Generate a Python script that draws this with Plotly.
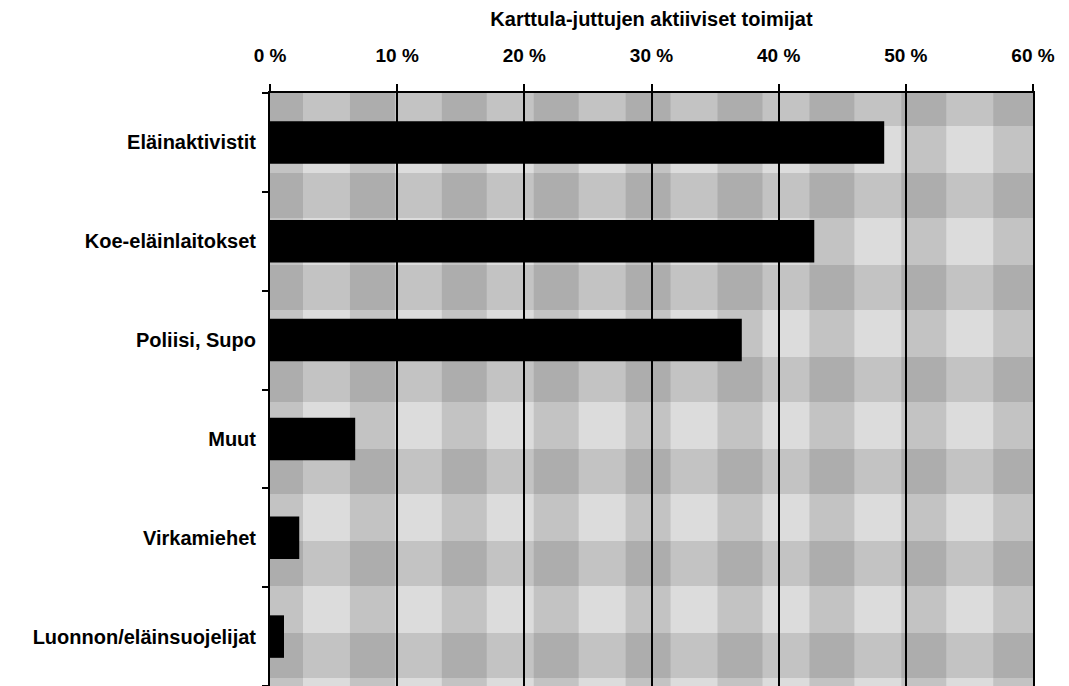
import plotly.graph_objects as go

# ---- data ----
categories = [
    "Eläinaktivistit",
    "Koe-eläinlaitokset",
    "Poliisi, Supo",
    "Muut",
    "Virkamiehet",
    "Luonnon/eläinsuojelijat",
]
values = [48.3, 42.8, 37.1, 6.7, 2.3, 1.1]
tick_values = [0, 10, 20, 30, 40, 50, 60]
tick_labels = ["0 %", "10 %", "20 %", "30 %", "40 %", "50 %", "60 %"]
title_text = "Karttula-juttujen aktiiviset toimijat"

# ---- layout geometry ----
W, H = 1069, 686
ML, MR, MT, MB = 270, 36, 93, 0
PW = W - ML - MR
PH = H - MT - MB
FONT = "Liberation Sans, Arial, Helvetica, sans-serif"

# plaid background (decorative)
band = 45.0
period_x = 91.9
period_y = 92.0
offset = -12.0
shade = "rgba(0,0,0,0.11)"
shapes = []
k = 0
while offset + k * period_x < PW:
    s = offset + k * period_x
    a, b = max(s, 0) / PW, min(s + band, PW) / PW
    if b > a:
        shapes.append(dict(type="rect", xref="x domain", yref="y domain",
                           x0=a, x1=b, y0=0, y1=1, fillcolor=shade,
                           line_width=0, layer="below"))
    k += 1
k = 0
while offset + k * period_y < PH:
    s = offset + k * period_y
    top, bot = max(s, 0) / PH, min(s + band, PH) / PH
    if bot > top:
        shapes.append(dict(type="rect", xref="x domain", yref="y domain",
                           x0=0, x1=1, y0=1 - bot, y1=1 - top, fillcolor=shade,
                           line_width=0, layer="below"))
    k += 1

fig = go.Figure(go.Bar(
    x=values, y=categories, orientation="h",
    marker=dict(color="black", line=dict(width=0)),
    width=0.43, hoverinfo="x+y",
))

fig.update_layout(
    width=W, height=H,
    margin=dict(l=ML, r=MR, t=MT, b=MB, pad=0),
    paper_bgcolor="white",
    plot_bgcolor="#dcdcdc",
    showlegend=False,
    shapes=shapes,
    font=dict(family=FONT, color="black"),
    title=dict(text="<b>" + title_text + "</b>", x=(ML + PW / 2) / W,
               xanchor="center", y=1 - 19 / H, yanchor="middle",
               yref="container", xref="container",
               font=dict(size=20, family=FONT, color="black")),
)

fig.update_xaxes(
    side="top", range=[0, 60], tickvals=tick_values,
    ticktext=["<b>" + t + "</b>" for t in tick_labels],
    tickfont=dict(size=19, family=FONT, color="black"),
    showgrid=True, gridcolor="black", gridwidth=2,
    showline=True, linecolor="black", linewidth=2,
    ticks="outside", ticklen=7, tickwidth=2, tickcolor="black",
    ticklabelstandoff=14, zeroline=False, fixedrange=True,
)
fig.update_yaxes(
    categoryorder="array", categoryarray=categories, autorange="reversed",
    tickvals=categories,
    ticktext=["<b>" + c + "</b>" for c in categories],
    tickfont=dict(size=20, family=FONT, color="black"),
    showgrid=False, showline=True, mirror=True,
    linecolor="black", linewidth=2,
    ticks="outside", tickson="boundaries", ticklen=6, tickwidth=2,
    tickcolor="black", ticklabelstandoff=8, zeroline=False, fixedrange=True,
)

fig.write_html("out.html", config={"displayModeBar": False},
               post_script="document.body.style.margin='0';")
